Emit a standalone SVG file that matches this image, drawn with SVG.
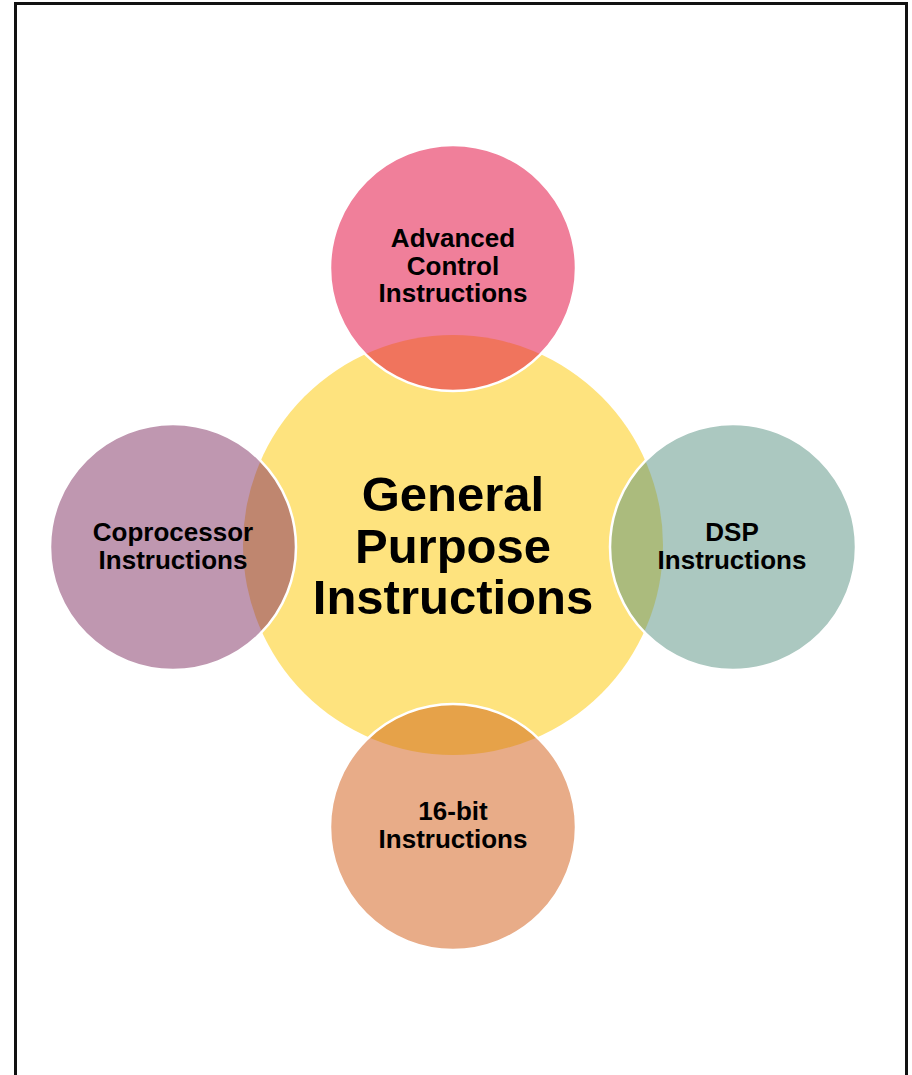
<svg xmlns="http://www.w3.org/2000/svg" width="912" height="1075" viewBox="0 0 912 1075">
<style>
.lbl{font-family:"Liberation Sans",Arial,sans-serif;font-weight:bold;fill:#000;text-anchor:middle}
.sm{font-size:26px}
.big{font-size:49px}
.rim{fill:none;stroke:#fff;stroke-width:2.5}
</style>
<defs>
<clipPath id="cy"><circle cx="453" cy="545" r="210"/></clipPath>
</defs>
<rect x="0" y="0" width="912" height="1075" fill="#fff"/>
<path d="M15.5,1075 V3.5 H906.5 V1075" fill="none" stroke="#111" stroke-width="3"/>
<g id="center">
<circle cx="453" cy="545" r="210" fill="#FEE37E"/>
<text class="lbl big" x="453" y="511">General</text>
<text class="lbl big" x="453" y="563">Purpose</text>
<text class="lbl big" x="453" y="614">Instructions</text>
</g>
<g id="top">
<circle cx="453" cy="268" r="123" fill="#F07F9A"/>
<circle cx="453" cy="268" r="123" fill="#F0745D" clip-path="url(#cy)"/>
<circle class="rim" cx="453" cy="268" r="123"/>
<text class="lbl sm" x="453" y="247">Advanced</text>
<text class="lbl sm" x="453" y="274.5">Control</text>
<text class="lbl sm" x="453" y="302">Instructions</text>
</g>
<g id="left">
<circle cx="173" cy="547" r="123" fill="#BF97B0"/>
<circle cx="173" cy="547" r="123" fill="#BF866F" clip-path="url(#cy)"/>
<circle class="rim" cx="173" cy="547" r="123"/>
<text class="lbl sm" x="173" y="541">Coprocessor</text>
<text class="lbl sm" x="173" y="569">Instructions</text>
</g>
<g id="right">
<circle cx="733" cy="547" r="123" fill="#ABC8C0"/>
<circle cx="733" cy="547" r="123" fill="#ABBB7D" clip-path="url(#cy)"/>
<circle class="rim" cx="733" cy="547" r="123"/>
<text class="lbl sm" x="732" y="541">DSP</text>
<text class="lbl sm" x="732" y="569">Instructions</text>
</g>
<g id="bottom">
<circle cx="453" cy="827" r="123" fill="#E8AC88"/>
<circle cx="453" cy="827" r="123" fill="#E6A249" clip-path="url(#cy)"/>
<circle class="rim" cx="453" cy="827" r="123"/>
<text class="lbl sm" x="453" y="820">16-bit</text>
<text class="lbl sm" x="453" y="848">Instructions</text>
</g>
<g id="connectors"/>
</svg>
